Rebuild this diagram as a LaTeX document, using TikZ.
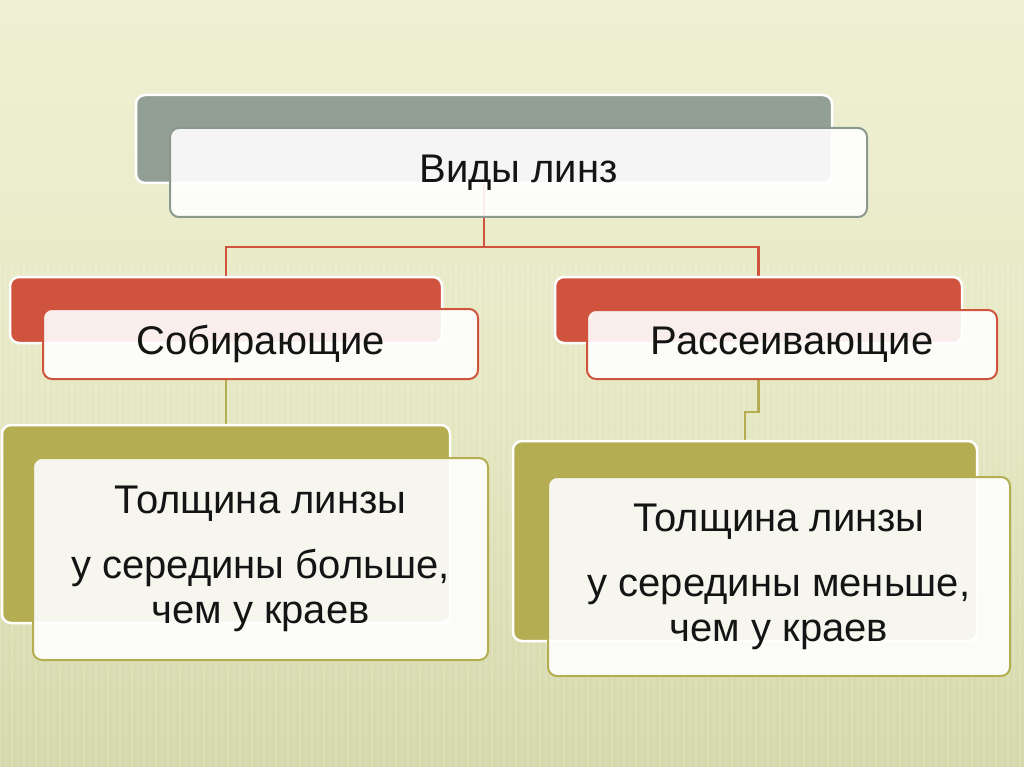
\documentclass[tikz,border=0pt]{standalone}
\usepackage{fontspec}
\setmainfont{Liberation Sans}
\usetikzlibrary{calc}
\pgfdeclarelayer{bg}
\pgfdeclarelayer{lines}
\pgfsetlayers{bg,lines,main}
\definecolor{bgtop}{RGB}{239,241,212}
\definecolor{bgmid}{RGB}{230,232,195}
\definecolor{bgbot}{RGB}{213,216,170}
\definecolor{grayc}{RGB}{145,159,148}
\definecolor{grayb}{RGB}{138,152,141}
\definecolor{redc}{RGB}{208,83,62}
\definecolor{olivec}{RGB}{181,173,82}
\definecolor{txt}{RGB}{20,20,20}
\begin{document}
\begin{tikzpicture}[x=1pt,y=-1pt,
  back/.style={draw=white, line width=2.5pt, rounded corners=9pt, inner sep=0pt, outer sep=0pt, anchor=north west},
  front/.style={fill=white, fill opacity=0.9, text opacity=1, line width=2pt, rounded corners=9pt, inner sep=0pt, outer sep=0pt, anchor=north west, text=txt, font=\fontsize{40}{45}\selectfont, align=center},
  redline/.style={draw=redc, line width=2.2pt},
  oliveline/.style={draw=olivec, line width=2.2pt}]
\useasboundingbox (0,0) rectangle (1024,767);
\begin{pgfonlayer}{bg}
  \shade[top color=bgtop, bottom color=bgbot, middle color=bgmid] (0,0) rectangle (1024,767);
  \foreach \x in {0,6,...,1024} {
    \draw[white, opacity=0.13, line width=2pt] (\x,260) -- (\x,767);
  }
\end{pgfonlayer}

% top level
\node[back, fill=grayc, minimum width=696pt, minimum height=88pt] (topback) at (136,95) {};
\node[front, draw=grayb, minimum width=697pt, minimum height=89pt] (topfront) at (170,128) {Виды линз};

% second level
\node[back, fill=redc, minimum width=432pt, minimum height=66pt] (redLback) at (10,277) {};
\node[front, draw=redc, minimum width=435pt, minimum height=70pt] (redLfront) at (43,309) {Собирающие};
\node[back, fill=redc, minimum width=407pt, minimum height=66pt] (redRback) at (555,277) {};
\node[front, draw=redc, minimum width=410pt, minimum height=69pt] (redRfront) at (587,310) {Рассеивающие};

% third level
\node[back, fill=olivec, minimum width=448pt, minimum height=198pt] (olLback) at (2,425) {};
\node[front, draw=olivec, minimum width=455pt, minimum height=202pt] (olLfront) at (33,458)
  {Толщина линзы\\[20pt]у середины больше,\\чем у краев};
\node[back, fill=olivec, minimum width=464pt, minimum height=200pt] (olRback) at (513,441) {};
\node[front, draw=olivec, minimum width=462pt, minimum height=199pt] (olRfront) at (548,477)
  {Толщина линзы\\[20pt]у середины меньше,\\чем у краев};

% connectors
\begin{pgfonlayer}{lines}
  \coordinate (hub) at ($(topback.south)+(0,64)$);
  \draw[redline] (topback.south) -- (hub);
  \draw[redline] (redLback.north) |- (hub) -| (redRback.north);
  \draw[oliveline] (redLback.south |- redLfront.south) -- (olLback.north);
  \draw[oliveline] (redRback.south |- redRfront.south) -- ++(0,33) -| (olRback.north);
\end{pgfonlayer}
\end{tikzpicture}
\end{document}
